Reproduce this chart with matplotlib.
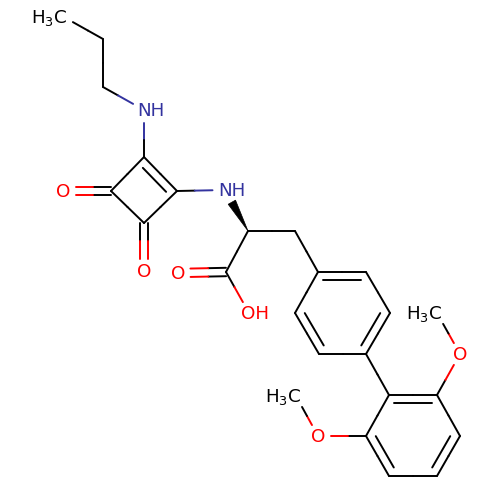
from matplotlib import pyplot as plt
from matplotlib.patches import Polygon
import numpy as np

BLACK = "#000000"
BLUE = "#33339f"
RED = "#ff0000"

# atoms (pixel positions, y goes down)
atom_names = ["C1", "C2", "C3", "N1", "Ca", "Cb", "Cc", "Cd", "O1", "O2",
              "N2", "Ch", "Cm", "Cx", "O3", "O4",
              "R1", "R2", "R3", "R4", "R5", "R6",
              "S1", "S2", "S3", "S4", "S5", "S6",
              "O5", "Me1", "O6", "Me2"]
atom_x = [62, 103, 103, 144, 144, 177, 144, 111, 63, 144,
          225, 248, 295, 226, 178, 249,
          318, 366, 390, 366, 319, 295,
          389, 437, 460, 437, 389, 366,
          460, 437, 318, 296]
atom_y = [16, 39, 87, 110, 157, 191, 223, 191, 191, 271,
          190, 231, 231, 272, 273, 313,
          272, 272, 313, 354, 354, 313,
          395, 395, 436, 476, 476, 436,
          354, 313, 436, 396]
atom_elements = ["C", "C", "C", "N", "C", "C", "C", "C", "O", "O",
                 "N", "C", "C", "C", "O", "O",
                 "C", "C", "C", "C", "C", "C",
                 "C", "C", "C", "C", "C", "C",
                 "O", "C", "O", "C"]

single_bonds = [("C1", "C2"), ("C2", "C3"), ("C3", "N1"), ("N1", "Ca"),
                ("Ca", "Cd"), ("Cb", "Cc"), ("Cc", "Cd"), ("Cb", "N2"),
                ("Ch", "Cm"), ("Ch", "Cx"), ("Cx", "O4"), ("Cm", "R1"),
                ("R1", "R2"), ("R2", "R3"), ("R3", "R4"), ("R4", "R5"),
                ("R5", "R6"), ("R6", "R1"), ("R4", "S1"),
                ("S1", "S2"), ("S2", "S3"), ("S3", "S4"), ("S4", "S5"),
                ("S5", "S6"), ("S6", "S1"),
                ("S2", "O5"), ("O5", "Me1"), ("S6", "O6"), ("O6", "Me2"),
                ("Ca", "Cb")]
# C=O, two lines either side of the bond
carbonyl_bonds = [("Cd", "O1"), ("Cc", "O2"), ("Cx", "O3")]
# second line sits inside the ring
ring_doubles = [(("Ca", "Cb"), ["Ca", "Cb", "Cc", "Cd"], 7),
                (("R1", "R2"), ["R1", "R2", "R3", "R4", "R5", "R6"], 5),
                (("R3", "R4"), ["R1", "R2", "R3", "R4", "R5", "R6"], 5),
                (("R5", "R6"), ["R1", "R2", "R3", "R4", "R5", "R6"], 5),
                (("S1", "S2"), ["S1", "S2", "S3", "S4", "S5", "S6"], 5),
                (("S3", "S4"), ["S1", "S2", "S3", "S4", "S5", "S6"], 5),
                (("S5", "S6"), ["S1", "S2", "S3", "S4", "S5", "S6"], 5)]
wedge_bond = ("Ch", "N2")

# atom, text, colour, shift of text centre from atom
atom_labels = [("C1", "H$_3$C", BLACK, -12.5, -1),
               ("N1", "NH", BLUE, 6.5, -1),
               ("O1", "O", RED, 0, -1),
               ("O2", "O", RED, 0, -1),
               ("N2", "NH", BLUE, 7, -1),
               ("O3", "O", RED, 0, -1),
               ("O4", "OH", RED, 6, -1),
               ("O5", "O", RED, 0, -1),
               ("Me1", "H$_3$C", BLACK, -12.5, -1.5),
               ("O6", "O", RED, 0, -1),
               ("Me2", "H$_3$C", BLACK, -13, -1.5)]

LABEL_GAP = 12.5
LW = 1.4


def pos(name):
    i = atom_names.index(name)
    return np.array([atom_x[i], atom_y[i]], dtype=float)


def is_labelled(name):
    return name in [lab[0] for lab in atom_labels]


def colour(name):
    el = atom_elements[atom_names.index(name)]
    return {"C": BLACK, "N": BLUE, "O": RED}[el]


def draw_segment(ax, p, q, c):
    ax.plot([p[0], q[0]], [p[1], q[1]], color=c, lw=LW, solid_capstyle="round")


# a bond changes colour half way along the part that is visible
def draw_bond(ax, a, b, shift=(0, 0)):
    p, q = pos(a), pos(b)
    d = (q - p) / np.linalg.norm(q - p)
    if is_labelled(a):
        p = p + d * LABEL_GAP
    if is_labelled(b):
        q = q - d * LABEL_GAP
    p, q = p + shift, q + shift
    m = (p + q) / 2
    draw_segment(ax, p, m, colour(a))
    draw_segment(ax, m, q, colour(b))


fig = plt.figure(figsize=(5, 5), dpi=100)
ax = fig.add_axes([0, 0, 1, 1])
ax.set_xlim(0, 500)
ax.set_ylim(500, 0)
ax.axis("off")

for a, b in single_bonds:
    draw_bond(ax, a, b)

for a, b in carbonyl_bonds:
    d = (pos(b) - pos(a)) / np.linalg.norm(pos(b) - pos(a))
    n = np.array([-d[1], d[0]])
    draw_bond(ax, a, b, shift=n * 4.2)
    draw_bond(ax, a, b, shift=-n * 4.2)

for (a, b), ring, trim in ring_doubles:
    p, q = pos(a), pos(b)
    d = (q - p) / np.linalg.norm(q - p)
    n = np.array([-d[1], d[0]])
    centre = np.mean([pos(r) for r in ring], axis=0)
    if np.dot(centre - p, n) < 0:
        n = -n
    draw_segment(ax, p + n * 8.4 + d * trim, q + n * 8.4 - d * trim, BLACK)

# stereo wedge, tip on the chiral carbon
p, q = pos(wedge_bond[0]), pos(wedge_bond[1])
d = (q - p) / np.linalg.norm(q - p)
n = np.array([-d[1], d[0]])
end = q - d * 14
ax.add_patch(Polygon([p, end + n * 4.2, end - n * 4.2], closed=True,
                     facecolor=BLACK, edgecolor=BLACK, lw=0.5))

for name, txt, c, dx, dy in atom_labels:
    x, y = pos(name)
    ax.text(x + dx, y + dy, txt, color=c, fontsize=13.2, family="DejaVu Sans",
            ha="center", va="center_baseline")

fig.savefig("out.png", dpi=100, facecolor="white")
